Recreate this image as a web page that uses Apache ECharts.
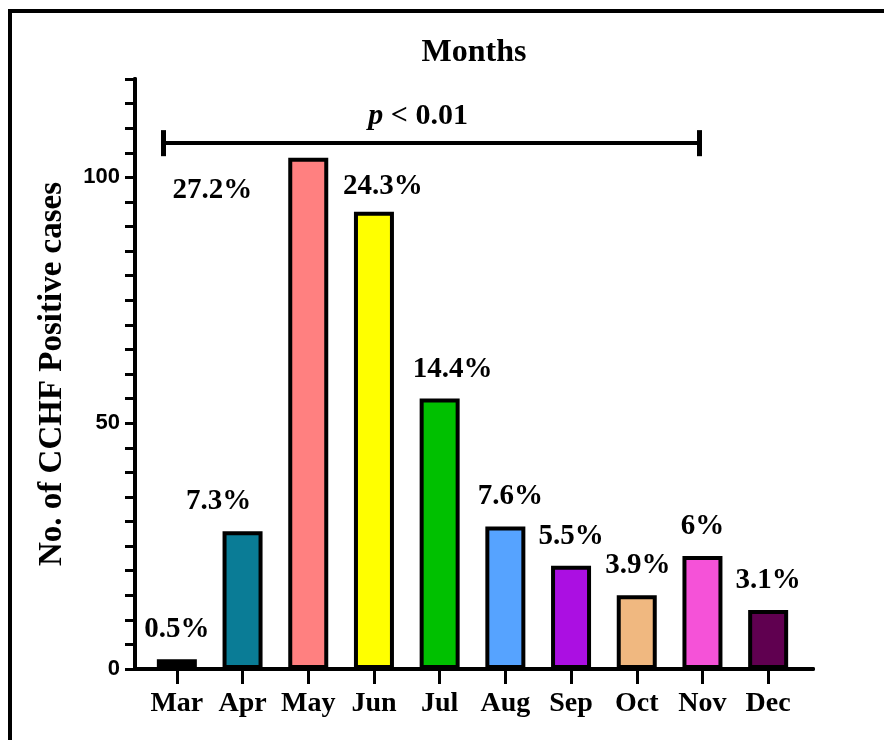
<!DOCTYPE html>
<html>
<head>
<meta charset="utf-8">
<script src="https://cdn.jsdelivr.net/npm/echarts@6/dist/echarts.min.js"></script>
<style>
  html, body { margin: 0; padding: 0; background: #fff; }
  #wrap { position: relative; width: 884px; height: 740px; overflow: hidden; }
  #chart { position: absolute; left: 0; top: 0; width: 884px; height: 740px; }
  #frame { position: absolute; left: 8px; top: 9px; right: -10px; bottom: -10px;
           border-left: 4px solid #000; border-top: 4px solid #000; pointer-events: none; }
</style>
</head>
<body>
<div id="wrap">
  <div id="chart"></div>
  <div id="frame"></div>
</div>
<script>
// Monthly CCHF positive cases and their share of the yearly total
const months = ['Mar', 'Apr', 'May', 'Jun', 'Jul', 'Aug', 'Sep', 'Oct', 'Nov', 'Dec'];
const cases = [2, 28, 104, 93, 55, 29, 21, 15, 23, 12];
const shares = ['0.5%', '7.3%', '27.2%', '24.3%', '14.4%', '7.6%', '5.5%', '3.9%', '6%', '3.1%'];
const barColors = ['#000000', '#0A7C96', '#FF8080', '#FFFF00', '#00C000',
                   '#56A3FF', '#AB0FE2', '#F0B880', '#F552D8', '#600050'];
const yTicks = [0, 50, 100];
const yMax = 120;

// Significance bracket (x in category-index units, y in cases)
const bracketFrom = -0.21;
const bracketTo = 7.95;
const bracketY = 107;
const capLow = 104.3;
const capHigh = 109.6;

// Per-bar label nudges [dx, dy] in pixels
const labelNudges = [[0, 0], [-24, 0], [-96, 62], [9, 4], [13, 0], [5, 0], [0, 0], [1, 0], [0, 0], [0, 0]];

const serif = '"Liberation Serif", "Times New Roman", serif';
const sans = '"Liberation Sans", Arial, sans-serif';

const chart = echarts.init(document.getElementById('chart'), null, { renderer: 'canvas' });

const frameLine = { show: true, lineStyle: { color: '#000', width: 4, cap: 'round' } };

chart.setOption({
  animation: false,
  grid: [
    // plotting band for the bars
    { left: 144, right: 83, top: 79, bottom: 71 },
    // box with the axis frame
    { left: 135, right: 71, top: 79, bottom: 71 }
  ],
  xAxis: [
    {
      type: 'category', gridIndex: 0, data: months, position: 'bottom',
      axisLine: { show: false },
      axisTick: { show: true, alignWithLabel: true, interval: 0, length: 15, lineStyle: { color: '#000', width: 3 } },
      axisLabel: { interval: 0, color: '#000', fontFamily: serif, fontWeight: 'bold', fontSize: 28, margin: 21 },
      splitLine: { show: false }
    },
    {
      type: 'value', gridIndex: 0, min: -0.5, max: months.length - 0.5, show: false
    },
    {
      type: 'value', gridIndex: 1, position: 'bottom', min: 0, max: 1,
      axisLine: frameLine, axisTick: { show: false }, axisLabel: { show: false }, splitLine: { show: false }
    },
    {
      type: 'value', gridIndex: 1, position: 'top', min: 0, max: 1,
      name: 'Months', nameLocation: 'middle', nameGap: 10,
      nameTextStyle: { color: '#000', fontFamily: serif, fontWeight: 'bold', fontSize: 32 },
      axisLine: frameLine, axisTick: { show: false }, axisLabel: { show: false }, splitLine: { show: false }
    }
  ],
  yAxis: [
    { type: 'value', gridIndex: 0, min: 0, max: yMax, show: false },
    {
      type: 'value', gridIndex: 1, position: 'left', min: 0, max: yMax, interval: 5,
      name: 'No. of CCHF Positive cases', nameLocation: 'middle', nameGap: 66, nameRotate: 90,
      nameTextStyle: { color: '#000', fontFamily: serif, fontWeight: 'bold', fontSize: 33 },
      axisLine: frameLine,
      axisTick: { show: true, length: 10, lineStyle: { color: '#000', width: 3 } },
      axisLabel: {
        color: '#000', fontFamily: sans, fontWeight: 'bold', fontSize: 22, margin: 15,
        formatter: v => (yTicks.indexOf(v) >= 0 ? String(v) : '')
      },
      splitLine: { show: false }
    },
    {
      type: 'value', gridIndex: 1, position: 'right', min: 0, max: yMax,
      axisLine: frameLine, axisTick: { show: false }, axisLabel: { show: false }, splitLine: { show: false }
    }
  ],
  series: [
    {
      type: 'bar', xAxisIndex: 0, yAxisIndex: 0, barWidth: 40,
      data: cases.map((v, i) => ({
        value: v,
        itemStyle: { color: barColors[i], borderColor: '#000', borderWidth: 4 },
        label: { offset: labelNudges[i] }
      })),
      label: {
        show: true, position: 'top', distance: 15,
        color: '#000', fontFamily: serif, fontWeight: 'bold', fontSize: 29,
        formatter: p => shares[p.dataIndex]
      }
    },
    {
      type: 'line', xAxisIndex: 1, yAxisIndex: 0, data: [], silent: true,
      markLine: {
        silent: true, symbol: 'none',
        lineStyle: { color: '#000', type: 'solid', width: 4 },
        label: { show: false },
        data: [
          [
            { coord: [bracketFrom, bracketY],
              label: {
                show: true, position: 'middle', distance: 12, offset: [-13, 0],
                formatter: '{i|p} < 0.01',
                color: '#000', fontFamily: serif, fontWeight: 'bold', fontSize: 30,
                rich: { i: { fontStyle: 'italic', fontFamily: serif, fontWeight: 'bold', fontSize: 30, color: '#000' } }
              } },
            { coord: [bracketTo, bracketY] }
          ],
          [
            { coord: [bracketFrom, capLow], lineStyle: { width: 5 } },
            { coord: [bracketFrom, capHigh] }
          ],
          [
            { coord: [bracketTo, capLow], lineStyle: { width: 5 } },
            { coord: [bracketTo, capHigh] }
          ]
        ]
      }
    }
  ]
});
</script>
</body>
</html>
